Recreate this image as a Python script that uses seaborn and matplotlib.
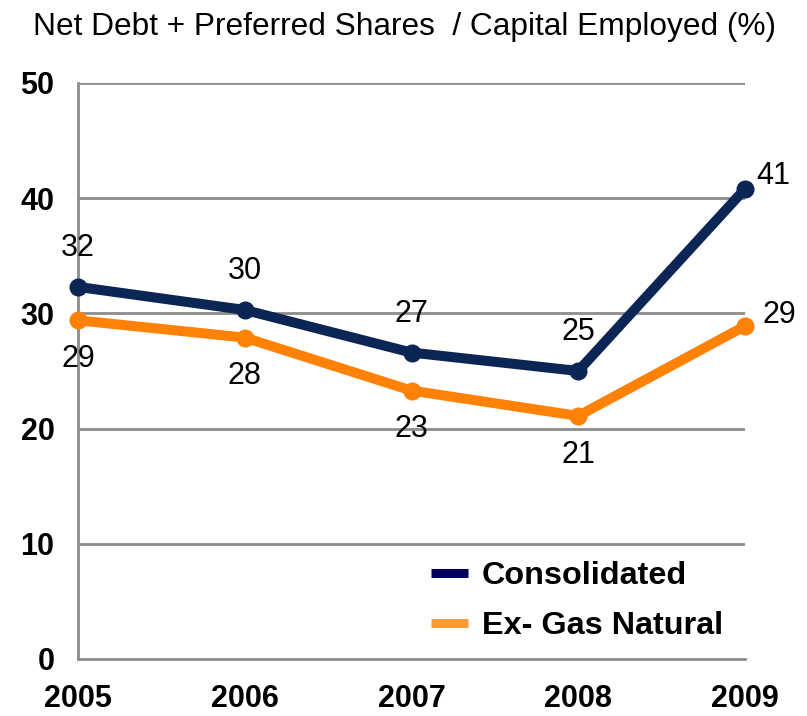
import matplotlib
matplotlib.use("Agg")
import matplotlib.pyplot as plt
from matplotlib.lines import Line2D
import seaborn as sns
import pandas as pd

years = [2005, 2006, 2007, 2008, 2009]
consolidated = [32.3, 30.3, 26.6, 25.0, 40.8]
ex_gas_natural = [29.4, 27.9, 23.3, 21.1, 28.9]
series_names = ["Consolidated", "Ex- Gas Natural"]
y_ticks = [0, 10, 20, 30, 40, 50]
title = "Net Debt + Preferred Shares  / Capital Employed (%)"

line_colors = {"Consolidated": "#0b2554", "Ex- Gas Natural": "#ff8207"}
legend_colors = {"Consolidated": "#00005e", "Ex- Gas Natural": "#ff9a35"}

df = pd.DataFrame({
    "year": years * 2,
    "value": consolidated + ex_gas_natural,
    "series": [series_names[0]] * len(years) + [series_names[1]] * len(years),
})

sns.set_theme(style="white")
plt.rcParams["font.family"] = ["Liberation Sans", "DejaVu Sans"]
plt.rcParams["text.color"] = "black"
plt.rcParams["xtick.labelcolor"] = "black"
plt.rcParams["ytick.labelcolor"] = "black"

fig = plt.figure(figsize=(8.07, 7.16), dpi=100)
ax = fig.add_axes([78 / 807, 1 - 659 / 716, (745 - 78) / 807, (659 - 83) / 716])

sns.lineplot(
    data=df, x="year", y="value", hue="series", palette=line_colors,
    marker="o", markersize=13, markeredgewidth=0, linewidth=7.2,
    ax=ax, legend=False, zorder=3,
)
for ln in ax.lines:
    ln.set_clip_on(False)

ax.set_xlim(2005, 2009)
ax.set_ylim(0, 50)
ax.set_xticks(years)
ax.set_xticklabels([str(y) for y in years])
ax.set_yticks(y_ticks)
ax.set_xlabel("")
ax.set_ylabel("")

grid_gray = "#8c8c8c"
for yv in y_ticks[1:]:
    ax.axhline(yv, color=grid_gray, linewidth=2, zorder=1)
ax.grid(False)

for side in ["top", "right"]:
    ax.spines[side].set_visible(False)
for side in ["left", "bottom"]:
    ax.spines[side].set_color(grid_gray)
    ax.spines[side].set_linewidth(2)

ax.tick_params(axis="both", which="both", length=7, width=2, color=grid_gray,
               labelsize=22, labelcolor="black", direction="out")
ax.tick_params(axis="y", pad=10)
ax.tick_params(axis="x", pad=11)
for lab in ax.get_xticklabels() + ax.get_yticklabels():
    lab.set_fontweight("bold")

# data labels: consolidated above, ex-gas below, last point to the right
label_kw = dict(textcoords="offset points", fontsize=22, color="black",
                va="center", ha="center", annotation_clip=False)
for i, (x, v) in enumerate(zip(years, consolidated)):
    off = (20, 9) if i == len(years) - 1 else (0, 28)
    ax.annotate(f"{v:.0f}", (x, v), xytext=off, **label_kw)
for i, (x, v) in enumerate(zip(years, ex_gas_natural)):
    off = (25, 8) if i == len(years) - 1 else (0, -28)
    ax.annotate(f"{v:.0f}", (x, v), xytext=off, **label_kw)

handles = [Line2D([0], [0], color=legend_colors[n], linewidth=6.5, solid_capstyle="butt")
           for n in series_names]
ax.legend(handles, series_names, loc="center left",
          bbox_to_anchor=(431 / 807, 1 - 601 / 716), bbox_transform=fig.transFigure,
          frameon=False, borderpad=0, borderaxespad=0, handlelength=1.15,
          handletextpad=0.42, labelspacing=0.62,
          prop={"size": 23.3, "weight": "bold"})

fig.text(405 / 807, 1 - 27 / 716, title, ha="center", va="center", fontsize=22.8)

fig.savefig("out.png", dpi=100)
